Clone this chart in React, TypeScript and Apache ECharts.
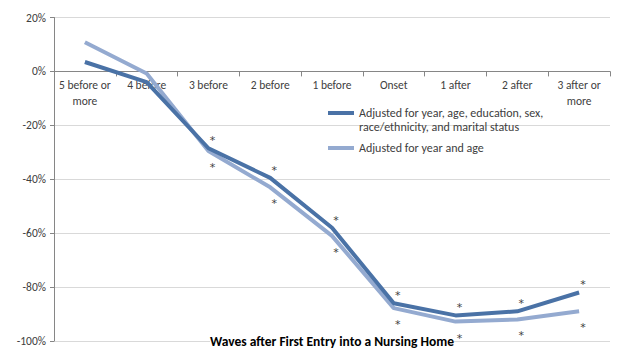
import React, { useEffect, useRef } from "react";
import * as echarts from "echarts";

const categories = [
  "5 before or\nmore",
  "4 before",
  "3 before",
  "2 before",
  "1 before",
  "Onset",
  "1 after",
  "2 after",
  "3 after or\nmore",
];

const fullName = "Adjusted for year, age, education, sex,\nrace/ethnicity, and marital status";
const ageName = "Adjusted for year and age";

const fullValues = [3.5, -4, -28.5, -39.5, -58, -86, -90.5, -89, -82];
const ageValues = [10.8, -0.8, -29.5, -43, -61, -87.8, -92.8, -92, -89];

const fullSig = [false, false, true, true, true, true, true, true, true];
const ageSig = [false, false, true, true, true, true, true, true, true];

const yMin = -100;
const yMax = 20;
const yStep = 20;

const axisTitle = "Waves after First Entry into a Nursing Home";

const FONT = "Carlito, 'Liberation Sans', Arial, sans-serif";
const STAR_FONT = "'DejaVu Sans', sans-serif";

const W = 622;
const H = 359;
const GRID_TOP = 17.5;
const GRID_BOTTOM = 18;

export default function App() {
  const ref = useRef<HTMLDivElement>(null);

  useEffect(() => {
    if (!ref.current) return;
    const chart = echarts.init(ref.current, null, { renderer: "svg" });
    const gridH = H - GRID_TOP - GRID_BOTTOM;
    const zeroOffset = -gridH * (0 - yMin) / (yMax - yMin);
    const legendText = { fontSize: 12, color: "#404040", lineHeight: 14, fontFamily: FONT };
    chart.setOption({
      animation: false,
      backgroundColor: "#ffffff",
      textStyle: { fontFamily: FONT },
      grid: { left: 54, right: 12, top: GRID_TOP, bottom: GRID_BOTTOM, containLabel: false, outerBoundsMode: "none" },
      legend: [
        {
          orient: "vertical",
          left: 328,
          top: 92,
          padding: 0,
          itemWidth: 26,
          itemHeight: 4,
          icon: "rect",
          formatter: (name: string) => "\n" + name,
          textStyle: legendText,
          data: [fullName],
        },
        {
          orient: "vertical",
          left: 328,
          top: 141,
          padding: 0,
          itemWidth: 26,
          itemHeight: 4,
          icon: "rect",
          textStyle: legendText,
          data: [ageName],
        },
      ],
      xAxis: {
        type: "category",
        data: categories,
        boundaryGap: true,
        offset: zeroOffset,
        axisLine: { onZero: false, lineStyle: { color: "#868686", width: 1 } },
        axisTick: { show: true, interval: 0, length: 5, lineStyle: { color: "#868686" } },
        axisLabel: {
          interval: 0,
          fontSize: 11.5,
          lineHeight: 16,
          color: "#404040",
          margin: 6,
          fontFamily: FONT,
        },
        splitLine: { show: false },
      },
      yAxis: {
        type: "value",
        min: yMin,
        max: yMax,
        interval: yStep,
        axisLine: { show: true, lineStyle: { color: "#868686", width: 1 } },
        axisTick: { show: true, length: 4, lineStyle: { color: "#868686" } },
        axisLabel: {
          formatter: "{value}%",
          fontSize: 11.5,
          color: "#404040",
          margin: 8,
          fontFamily: FONT,
        },
        splitLine: { show: true, lineStyle: { color: "#d9d9d9", width: 1 } },
      },
      graphic: [
        {
          type: "text",
          x: 332,
          y: 341,
          z: 100,
          style: {
            text: axisTitle,
            fontSize: 13.5,
            fontWeight: "bold",
            fill: "#000000",
            align: "center",
            verticalAlign: "middle",
            fontFamily: FONT,
            backgroundColor: "#ffffff",
            padding: 0,
          },
        },
      ],
      series: [
        {
          name: fullName,
          type: "line",
          data: fullValues,
          symbol: "circle",
          symbolSize: 0,
          showSymbol: true,
          color: "#4A72A6",
          lineStyle: { width: 4, color: "#4A72A6" },
          label: {
            show: true,
            position: "top",
            distance: 2,
            offset: [4, 0],
            fontSize: 11,
            fontFamily: STAR_FONT,
            color: "#404040",
            formatter: (p: any) => (fullSig[p.dataIndex] ? "*" : ""),
          },
          z: 3,
        },
        {
          name: ageName,
          type: "line",
          data: ageValues,
          symbol: "circle",
          symbolSize: 0,
          showSymbol: true,
          color: "#94AAD0",
          lineStyle: { width: 4, color: "#94AAD0" },
          label: {
            show: true,
            position: "bottom",
            distance: 11,
            offset: [4, 0],
            fontSize: 11,
            fontFamily: STAR_FONT,
            color: "#404040",
            formatter: (p: any) => (ageSig[p.dataIndex] ? "*" : ""),
          },
          z: 2,
        },
      ],
    });
    return () => chart.dispose();
  }, []);

  return (
    <div
      ref={ref}
      style={{ position: "absolute", left: 0, top: 0, width: W, height: H, background: "#fff" }}
    />
  );
}
